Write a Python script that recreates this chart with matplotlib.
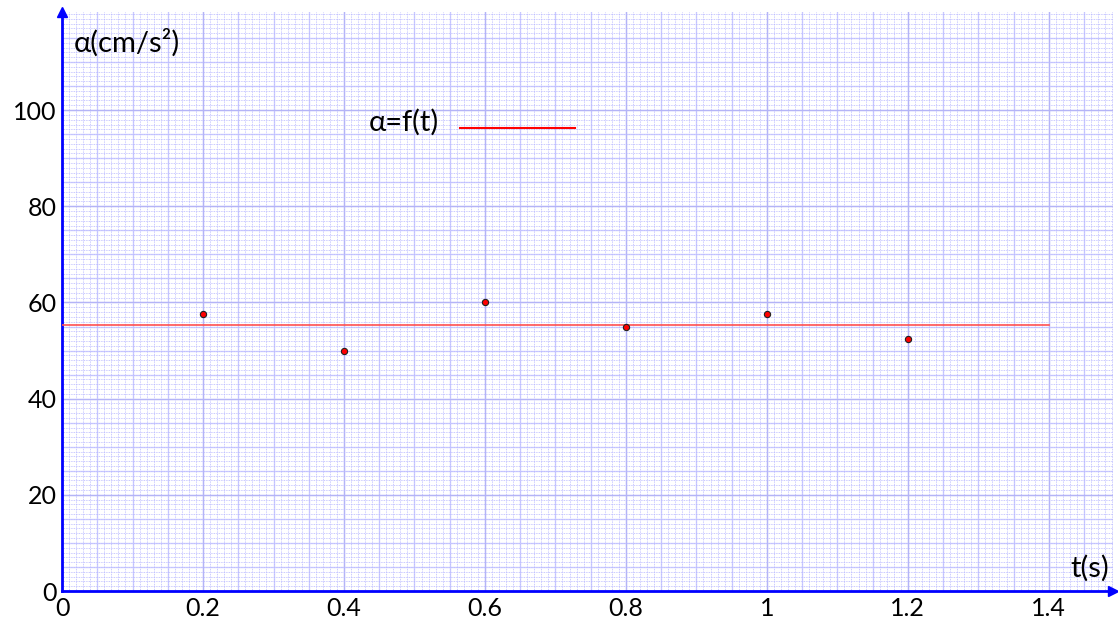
import matplotlib
matplotlib.use("Agg")
import matplotlib.pyplot as plt
import numpy as np
from matplotlib.ticker import MultipleLocator

# measured values
t = [0.2, 0.4, 0.6, 0.8, 1.0, 1.2]
alpha = [57.5, 50, 60, 55, 57.5, 52.5]
alpha_mean = np.mean(alpha)
fit_t = [0, 1.4]
x_ticks = [0, 0.2, 0.4, 0.6, 0.8, 1.0, 1.2, 1.4]
x_labels = ["0", "0.2", "0.4", "0.6", "0.8", "1", "1.2", "1.4"]
y_ticks = [0, 20, 40, 60, 80, 100]

plt.rcParams["font.family"] = ["Lato", "DejaVu Sans"]

fig = plt.figure(figsize=(11.18, 6.28), dpi=100)
ax = fig.add_axes([0.0555, 0.0589, 0.940, 0.922])
ax.set_xlim(0, 1.491)
ax.set_ylim(0, 120.4)

# graph-paper grid
ax.xaxis.set_major_locator(MultipleLocator(0.2))
ax.yaxis.set_major_locator(MultipleLocator(20))
ax.xaxis.set_minor_locator(MultipleLocator(0.01))
ax.yaxis.set_minor_locator(MultipleLocator(1))
ax.grid(which="minor", color="#b8b8ff", linewidth=0.6, linestyle=(0, (1, 1)))
ax.grid(which="major", color="#b4b4f6", linewidth=0.9)
for xv in np.arange(0.05, 1.49, 0.05):
    ax.axvline(xv, color="#d0d0ff", linewidth=1.0, zorder=0.5)
for yv in np.arange(5, 120, 5):
    ax.axhline(yv, color="#d0d0ff", linewidth=1.0, zorder=0.5)
ax.set_axisbelow(True)

ax.set_xticks(x_ticks)
ax.set_xticklabels(x_labels)
ax.set_yticks(y_ticks)
ax.tick_params(which="both", length=0, labelsize=18, pad=4)

for s in ["top", "right"]:
    ax.spines[s].set_visible(False)
for s in ["left", "bottom"]:
    ax.spines[s].set_color("#0000ff")
    ax.spines[s].set_linewidth(2)
ax.plot(1, 0, ">", color="#0000ff", markersize=7, transform=ax.transAxes, clip_on=False)
ax.plot(0, 1, "^", color="#0000ff", markersize=7, transform=ax.transAxes, clip_on=False)

# fitted constant line and data points
ax.plot(fit_t, [alpha_mean, alpha_mean], color="#ff5050", linewidth=1.2, zorder=3)
ax.plot(t, alpha, "o", color="#ff0000", markeredgecolor="#202020",
        markersize=4.5, markeredgewidth=0.8, zorder=4)

# legend-like label
ax.text(0.435, 97.5, "α=f(t)", fontsize=21, va="center", ha="left")
ax.plot([0.565, 0.728], [96.3, 96.3], color="#ff0000", linewidth=1.5)

ax.text(0.016, 114, "α(cm/s²)", fontsize=21, va="center", ha="left")
ax.text(1.485, 2, "t(s)", fontsize=21, va="bottom", ha="right")

fig.savefig("out.png", dpi=100)
